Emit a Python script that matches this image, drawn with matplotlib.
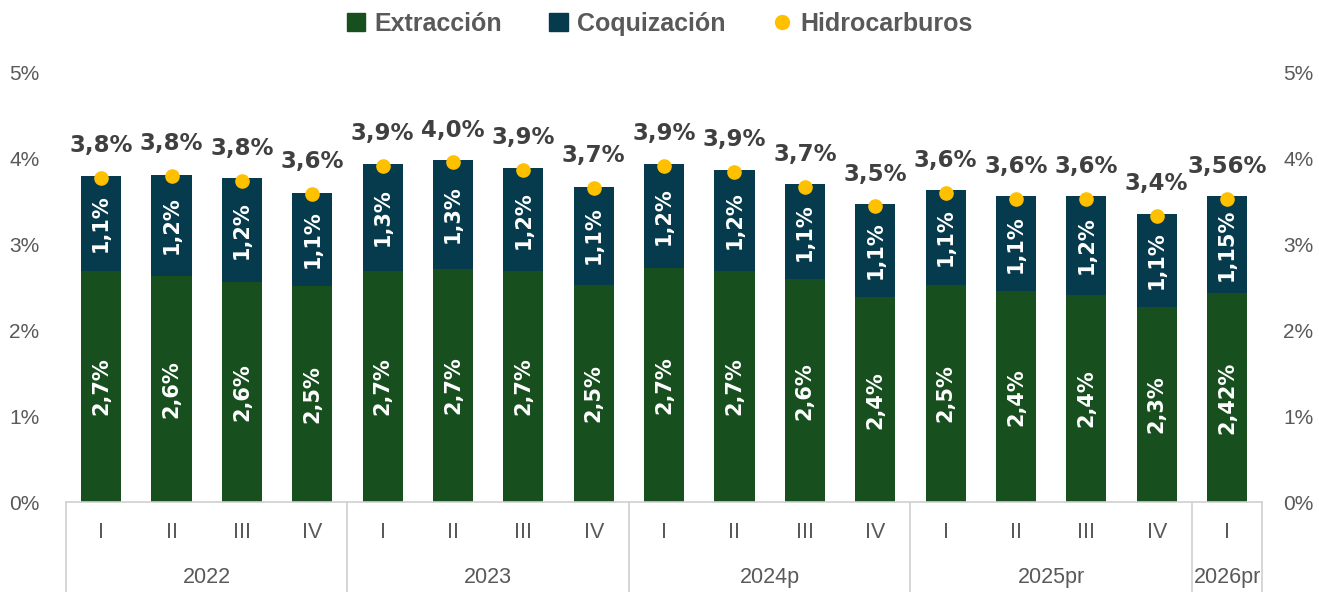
import matplotlib
matplotlib.use("Agg")
import matplotlib.pyplot as plt
from matplotlib.lines import Line2D
from matplotlib.patches import Patch
import matplotlib.transforms as mtransforms

plt.rcParams['font.family'] = ['Liberation Sans', 'DejaVu Sans']

# datos
trimestres = ["I", "II", "III", "IV", "I", "II", "III", "IV", "I", "II", "III", "IV",
              "I", "II", "III", "IV", "I"]
anios = ["2022", "2023", "2024p", "2025pr", "2026pr"]
trim_por_anio = [4, 4, 4, 4, 1]
extraccion = [2.69, 2.63, 2.56, 2.51, 2.69, 2.71, 2.69, 2.53, 2.72, 2.69, 2.59, 2.38,
              2.53, 2.45, 2.41, 2.27, 2.43]
coquizacion = [1.10, 1.18, 1.21, 1.09, 1.24, 1.27, 1.19, 1.14, 1.21, 1.17, 1.11, 1.09,
               1.10, 1.11, 1.15, 1.08, 1.13]
hidrocarburos = [3.77, 3.79, 3.74, 3.58, 3.91, 3.95, 3.86, 3.65, 3.91, 3.84, 3.67, 3.44,
                 3.60, 3.53, 3.53, 3.33, 3.53]
etq_ext = ["2,7%", "2,6%", "2,6%", "2,5%", "2,7%", "2,7%", "2,7%", "2,5%", "2,7%", "2,7%",
           "2,6%", "2,4%", "2,5%", "2,4%", "2,4%", "2,3%", "2,42%"]
etq_coq = ["1,1%", "1,2%", "1,2%", "1,1%", "1,3%", "1,3%", "1,2%", "1,1%", "1,2%", "1,2%",
           "1,1%", "1,1%", "1,1%", "1,1%", "1,2%", "1,1%", "1,15%"]
etq_hid = ["3,8%", "3,8%", "3,8%", "3,6%", "3,9%", "4,0%", "3,9%", "3,7%", "3,9%", "3,9%",
           "3,7%", "3,5%", "3,6%", "3,6%", "3,6%", "3,4%", "3,56%"]

verde = "#174F1E"
azul = "#053B4C"
amarillo = "#FFC000"
gris = "#595959"
linea = "#D0D0D0"

fig = plt.figure(figsize=(13.19, 5.92), dpi=100)
ax = fig.add_axes([0.050, 0.152, 0.907, 0.726])
x = list(range(len(trimestres)))

ax.bar(x, extraccion, width=0.57, color=verde, zorder=2)
ax.bar(x, coquizacion, width=0.57, bottom=extraccion, color=azul, zorder=2)
ax.scatter(x, hidrocarburos, s=90, color=amarillo, zorder=4)

for i in x:
    ax.text(i, extraccion[i] / 2, etq_ext[i], rotation=90, ha="center", va="center",
            color="white", fontsize=15, fontweight="bold", family="DejaVu Sans")
    ax.text(i, extraccion[i] + coquizacion[i] / 2, etq_coq[i], rotation=90, ha="center",
            va="center", color="white", fontsize=15, fontweight="bold", family="DejaVu Sans")
    ax.text(i, hidrocarburos[i] + 0.30, etq_hid[i], ha="center", va="baseline",
            color="#404040", fontsize=16.5, fontweight="bold", family="DejaVu Sans")

ax.set_xlim(-0.5, len(x) - 0.5)
ax.set_ylim(0, 5)
ax.set_yticks([0, 1, 2, 3, 4, 5])
ax.set_yticklabels(["0%", "1%", "2%", "3%", "4%", "5%"])
ax.tick_params(axis="y", length=0, labelsize=15, labelcolor=gris, pad=19)
ax.set_xticks([])
for s in ["top", "left", "right"]:
    ax.spines[s].set_visible(False)
ax.spines["bottom"].set_color(linea)
ax.spines["bottom"].set_linewidth(1.2)

ax2 = ax.twinx()
ax2.set_ylim(0, 5)
ax2.set_yticks([0, 1, 2, 3, 4, 5])
ax2.set_yticklabels(["0%", "1%", "2%", "3%", "4%", "5%"])
ax2.tick_params(axis="y", length=0, labelsize=15, labelcolor=gris, pad=15)
for s in ax2.spines.values():
    s.set_visible(False)

# eje de categorias en dos niveles
trans = mtransforms.blended_transform_factory(ax.transData, ax.transAxes)
for i in x:
    ax.text(i, -0.070, trimestres[i], transform=trans, ha="center", va="center",
            fontsize=15.5, color=gris)
inicio = -0.5
bordes = [inicio]
for n, anio in zip(trim_por_anio, anios):
    fin = inicio + n
    ax.text((inicio + fin) / 2, -0.176, anio, transform=trans, ha="center", va="center",
            fontsize=15.5, color=gris)
    bordes.append(fin)
    inicio = fin
for b in bordes:
    ax.add_line(Line2D([b, b], [0, -0.25], transform=trans, color=linea, lw=1.2,
                       clip_on=False))

handles = [Patch(color=verde), Patch(color=azul),
           Line2D([], [], marker="o", ls="", color=amarillo, markersize=10)]
fig.legend(handles, ["Extracción", "Coquización", "Hidrocarburos"], loc="upper center",
           bbox_to_anchor=(0.5, 1.018), ncol=3, frameon=False, handlelength=0.75,
           handleheight=0.75, columnspacing=1.9, handletextpad=0.35,
           prop={"size": 18, "weight": "bold"}, labelcolor=gris)

fig.savefig("out.png", dpi=100)
